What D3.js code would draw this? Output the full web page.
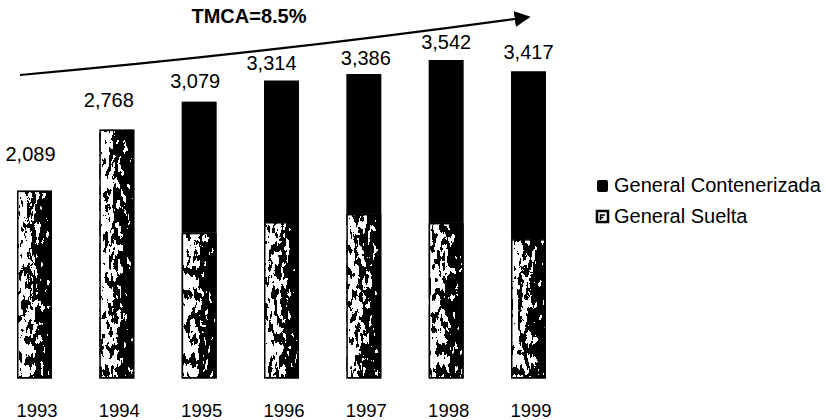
<!DOCTYPE html>
<html>
<head>
<meta charset="utf-8">
<script src="https://cdn.jsdelivr.net/npm/d3@7"></script>
<style>
  html, body { margin: 0; padding: 0; background: #fff; }
  svg { display: block; font-family: "Liberation Sans", Arial, Helvetica, sans-serif; }
</style>
</head>
<body>
<svg id="chart" width="826" height="420"></svg>
<script>
// Carga general por año (miles de toneladas)
const years = ["1993", "1994", "1995", "1996", "1997", "1998", "1999"];
const totals = [2089, 2768, 3079, 3314, 3386, 3542, 3417];
const suelta = [2089, 2768, 1620, 1740, 1830, 1730, 1550];
const contenerizada = [0, 0, 1459, 1574, 1556, 1812, 1867];
const seriesNames = ["General Contenerizada", "General Suelta"];
const growthLabel = "TMCA=8.5%";

// Small nudges for the value labels (horizontal shift, gap above bar top)
const labelDx = [-4, -8, -4, -10, 2, 0, 0];
const labelGap = [30, 23, 14, 11, 9, 11, 12];

const svg = d3.select("#chart");
const W = 826, H = 420;
svg.append("rect").attr("width", W).attr("height", H).attr("fill", "#fff");

const baseY = 378.5, topY = 60;
const x = d3.scaleBand().domain(years).range([17, 546]).paddingInner(0.575).paddingOuter(0);
const y = d3.scaleLinear().domain([0, 3542]).range([baseY, topY]);

// Grainy black-and-white texture for the loose cargo series:
// a left-to-right shade plus noise, thresholded to pure black/white
const defs = svg.append("defs");
const grad = defs.append("linearGradient").attr("id", "shade").attr("x1", 0).attr("x2", 1).attr("y1", 0).attr("y2", 0);
grad.append("stop").attr("offset", "0%").attr("stop-color", "#f2f2f2");
grad.append("stop").attr("offset", "40%").attr("stop-color", "#b4b4b4");
grad.append("stop").attr("offset", "100%").attr("stop-color", "#303030");

const f = defs.append("filter").attr("id", "grain")
  .attr("x", 0).attr("y", 0).attr("width", 1).attr("height", 1)
  .attr("color-interpolation-filters", "sRGB");
f.append("feTurbulence").attr("type", "fractalNoise").attr("baseFrequency", "0.22 0.09")
  .attr("numOctaves", 4).attr("seed", 5).attr("result", "noise");
f.append("feColorMatrix").attr("in", "noise").attr("type", "matrix")
  .attr("values", "1 0 0 0 0  1 0 0 0 0  1 0 0 0 0  0 0 0 0 1").attr("result", "gray");
f.append("feComposite").attr("in", "SourceGraphic").attr("in2", "gray")
  .attr("operator", "arithmetic").attr("k1", 0).attr("k2", 1).attr("k3", 1.9).attr("k4", -1.15)
  .attr("result", "mix");
const ct = f.append("feComponentTransfer").attr("in", "mix").attr("result", "bw");
["feFuncR", "feFuncG", "feFuncB"].forEach(n => ct.append(n).attr("type", "discrete").attr("tableValues", "0 1"));
ct.append("feFuncA").attr("type", "linear").attr("slope", 0).attr("intercept", 1);
f.append("feComposite").attr("in", "bw").attr("in2", "SourceAlpha").attr("operator", "in");

const rows = years.map((yr, i) => ({ yr, i, suelta: suelta[i], cont: contenerizada[i], total: totals[i] }));

// Bottom segment: General Suelta
const g = svg.append("g");
g.selectAll("rect.suelta").data(rows).join("rect")
  .attr("class", "suelta")
  .attr("x", d => x(d.yr))
  .attr("y", d => y(d.suelta))
  .attr("width", x.bandwidth())
  .attr("height", d => y(0) - y(d.suelta))
  .attr("fill", "url(#shade)")
  .attr("filter", "url(#grain)");
g.selectAll("rect.sueltaEdge").data(rows).join("rect")
  .attr("class", "sueltaEdge")
  .attr("x", d => x(d.yr) + 0.75)
  .attr("y", d => y(d.suelta) + 0.75)
  .attr("width", x.bandwidth() - 1.5)
  .attr("height", d => y(0) - y(d.suelta) - 1.5)
  .attr("fill", "none").attr("stroke", "#000").attr("stroke-width", 1.5);

// Top segment: General Contenerizada
g.selectAll("rect.cont").data(rows.filter(d => d.cont > 0)).join("rect")
  .attr("class", "cont")
  .attr("x", d => x(d.yr))
  .attr("y", d => y(d.suelta + d.cont))
  .attr("width", x.bandwidth())
  .attr("height", d => y(d.suelta) - y(d.suelta + d.cont))
  .attr("fill", "#000");

// Totals above each bar
const fmt = d3.format(",");
svg.append("g").selectAll("text").data(rows).join("text")
  .attr("x", d => x(d.yr) + x.bandwidth() / 2 + labelDx[d.i])
  .attr("y", d => y(d.total) - labelGap[d.i])
  .attr("text-anchor", "middle")
  .attr("font-size", 20)
  .attr("fill", "#000")
  .text(d => fmt(d.total));

// Year axis
const axis = svg.append("g")
  .attr("transform", `translate(2.5,${baseY})`)
  .call(d3.axisBottom(x).tickSize(0).tickPadding(25));
axis.select(".domain").remove();
axis.selectAll("text").attr("font-size", 18.5).attr("fill", "#000")
  .attr("font-family", "'Liberation Sans', Arial, sans-serif");

// Growth arrow
defs.append("marker").attr("id", "head")
  .attr("viewBox", "0 0 10 10").attr("refX", 9).attr("refY", 5)
  .attr("markerWidth", 16).attr("markerHeight", 16).attr("markerUnits", "userSpaceOnUse")
  .attr("orient", "auto")
  .append("path").attr("d", "M0,0 L10,5 L0,10 z").attr("fill", "#000");
const arrow = d3.path();
arrow.moveTo(20, 75);
arrow.quadraticCurveTo(268, 53, 529, 17);
svg.append("path").attr("d", arrow.toString())
  .attr("fill", "none").attr("stroke", "#000").attr("stroke-width", 2.2)
  .attr("marker-end", "url(#head)");
svg.append("text").attr("x", 249).attr("y", 23).attr("text-anchor", "middle")
  .attr("font-size", 20).attr("font-weight", "bold").attr("fill", "#000")
  .text(growthLabel);

// Legend
const legend = svg.append("g").attr("transform", "translate(597,0)");
const items = [
  { name: seriesNames[0], y: 192, kind: "cont" },
  { name: seriesNames[1], y: 223, kind: "suelta" }
];
items.forEach(it => {
  if (it.kind === "cont") {
    legend.append("rect").attr("x", 0).attr("y", it.y - 12).attr("width", 11).attr("height", 12)
      .attr("rx", 2).attr("fill", "#000");
  } else {
    legend.append("rect").attr("x", 0).attr("y", it.y - 12).attr("width", 11).attr("height", 11)
      .attr("fill", "#fff").attr("stroke", "#000").attr("stroke-width", 2.5);
    legend.append("path").attr("d", `M3.5,${it.y - 3} L3.5,${it.y - 8} L8,${it.y - 8} M3.5,${it.y - 5.5} L6.5,${it.y - 5.5}`)
      .attr("stroke", "#000").attr("stroke-width", 1.6).attr("fill", "none");
  }
  legend.append("text").attr("x", 17).attr("y", it.y)
    .attr("font-size", 20).attr("fill", "#000").text(it.name);
});
</script>
</body>
</html>
